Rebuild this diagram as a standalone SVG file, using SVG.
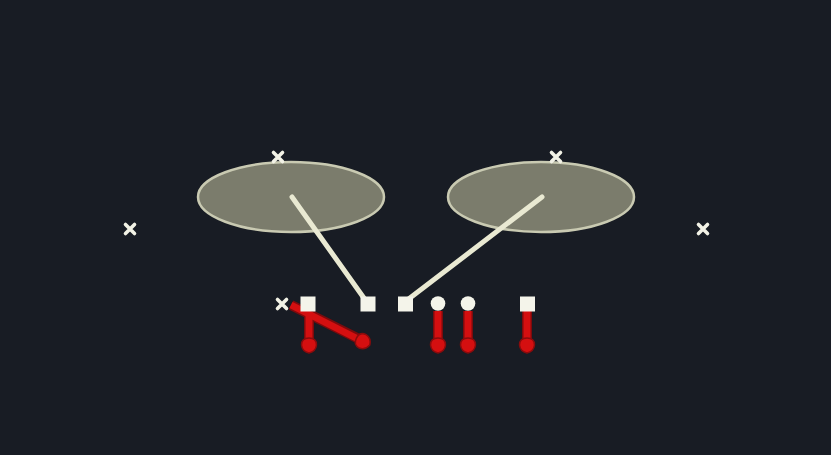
<svg xmlns="http://www.w3.org/2000/svg" width="831" height="455" viewBox="0 0 831 455">
  <style>
    .zone{fill:#7b7c6c;stroke:#c9cab2;stroke-width:2.5}
    .read{stroke:#e9e9d2;stroke-width:5;stroke-linecap:round;fill:none}
    .def{stroke:#f2f2e6;stroke-width:3.6;stroke-linecap:round}
    .off{fill:#f4f4ea}
    .route{stroke:#d40f10;stroke-width:7;fill:none;stroke-linejoin:round;marker-end:url(#blob)}
    .routeo{stroke:#7d0a0c;stroke-width:10;fill:none;stroke-linejoin:round}
  </style>
  <defs>
    <marker id="blob" markerUnits="userSpaceOnUse" markerWidth="40" markerHeight="40" viewBox="-20 -20 40 40" refX="0" refY="0" orient="auto" overflow="visible">
      <path d="M 11 0 C 10 -4 8 -7 3 -7.5 C -3 -7.5 -4 -3 -4 0 C -4 3 -3 7.5 3 7.5 C 8 7 10 4 11 0 Z" fill="#d40f10" stroke="#8a0b0c" stroke-width="1.5"/>
    </marker>
  </defs>
  <rect width="831" height="455" fill="#181c24"/>
  <g id="zone-left"><ellipse class="zone" cx="291" cy="197" rx="93" ry="35"/></g>
  <g id="zone-right"><ellipse class="zone" cx="541" cy="197" rx="93" ry="35"/></g>
  <g id="connectors">
    <line class="read" x1="292" y1="197" x2="366" y2="301"/>
    <line class="read" x1="542" y1="197" x2="406" y2="301"/>
    <path class="routeo" d="M 291 305 L 361 340"/>
    <path class="routeo" d="M 309 312 L 309 341"/>
    <path class="routeo" d="M 438 311 L 438 341"/>
    <path class="routeo" d="M 468 311 L 468 341"/>
    <path class="routeo" d="M 527 311 L 527 341"/>
    <path class="route" d="M 291 305 L 360 340"/>
    <path class="route" d="M 309 312 L 309 342"/>
    <path class="route" d="M 438 311 L 438 342"/>
    <path class="route" d="M 468 311 L 468 342"/>
    <path class="route" d="M 527 311 L 527 342"/>
  </g>
  <g id="def-1"><path class="def" d="M 273.5 152.5 L 282.5 161.5 M 282.5 152.5 L 273.5 161.5"/></g>
  <g id="def-2"><path class="def" d="M 551.5 152.5 L 560.5 161.5 M 560.5 152.5 L 551.5 161.5"/></g>
  <g id="def-3"><path class="def" d="M 125.5 224.5 L 134.5 233.5 M 134.5 224.5 L 125.5 233.5"/></g>
  <g id="def-4"><path class="def" d="M 698.5 224.5 L 707.5 233.5 M 707.5 224.5 L 698.5 233.5"/></g>
  <g id="def-5"><path class="def" d="M 277.5 299.5 L 286.5 308.5 M 286.5 299.5 L 277.5 308.5"/></g>
  <g id="off-1"><rect class="off" x="300.5" y="296.5" width="15" height="15"/></g>
  <g id="off-2"><rect class="off" x="360.5" y="296.5" width="15" height="15"/></g>
  <g id="off-3"><rect class="off" x="398" y="296.5" width="15" height="15"/></g>
  <g id="off-4"><circle class="off" cx="438" cy="303.5" r="7.3"/></g>
  <g id="off-5"><circle class="off" cx="468" cy="303.5" r="7.3"/></g>
  <g id="off-6"><rect class="off" x="520" y="296.5" width="15" height="15"/></g>
</svg>
